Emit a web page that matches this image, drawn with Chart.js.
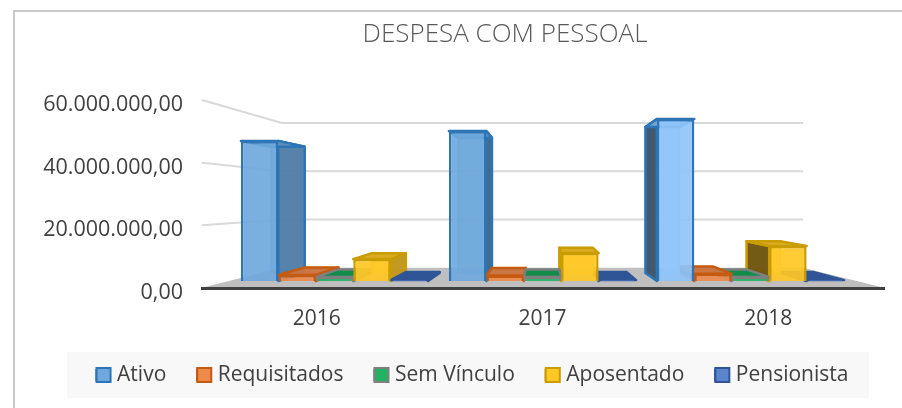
<!DOCTYPE html>
<html><head><meta charset="utf-8">
<style>html,body{margin:0;padding:0;background:#fff}canvas{display:block}</style>
<script src="https://cdn.jsdelivr.net/npm/chart.js@4"></script>
</head><body><canvas id="c" width="902" height="408"></canvas>
<script>
const years = ['2016', '2017', '2018'];
const ativo = [46700000, 50000000, 54000000];
const requisitados = [2000000, 1800000, 2400000];
const semVinculo = [1300000, 1300000, 1300000];
const aposentado = [7300000, 9300000, 11700000];
const pensionista = [300000, 300000, 300000];
const yTicks = [0, 20000000, 40000000, 60000000];

const seriesStyle = [
  {label:'Ativo', data:ativo, rgb:[111,168,220], rgbLast:[142,197,251], border:'#2e75b6'},
  {label:'Requisitados', data:requisitados, rgb:[238,138,76], border:'#c55a11'},
  {label:'Sem Vínculo', data:semVinculo, rgb:[33,178,100], border:'#7f7f7f', topRgb:[18,140,74]},
  {label:'Aposentado', data:aposentado, rgb:[255,200,37], border:'#c99d00'},
  {label:'Pensionista', data:pensionista, rgb:[91,132,207], border:'#2f5597', topRgb:[47,85,151]}
];
const sideShade = [0.75, 0.6, 0.42];
const VPY = 200, BAR_DEPTH = 0.9, WALL_DEPTH = 0.77;
const FONT = '"Open Sans", sans-serif';
const LEGEND_SHIFT = 32, LEGEND_CENTER_Y = 375, LEGEND_PAD = 31;

function colorOf(s, i, a, k){
  const c = (i === 2 && s.rgbLast) ? s.rgbLast : s.rgb;
  k = k === undefined ? 1 : k;
  return `rgba(${Math.round(c[0]*k)},${Math.round(c[1]*k)},${Math.round(c[2]*k)},${a})`;
}
function quad(ctx, pts, fill, stroke, w){
  ctx.beginPath();
  pts.forEach((p,i)=> i ? ctx.lineTo(p[0],p[1]) : ctx.moveTo(p[0],p[1]));
  ctx.closePath();
  if (fill){ ctx.fillStyle = fill; ctx.fill(); }
  if (stroke){ ctx.strokeStyle = stroke; ctx.lineWidth = w; ctx.lineJoin='round'; ctx.stroke(); }
}

const scene = {
  id:'scene',
  afterLayout(chart){
    const T = chart.titleBlock, L = chart.legend;
    T.left += 129;
    L.left += LEGEND_SHIFT; L.right += LEGEND_SHIFT;
    const itemH = L.legendHitBoxes[0].height;
    const dy = LEGEND_CENTER_Y - (L.top + LEGEND_PAD + itemH/2);
    L.top += dy; L.bottom += dy;
  },
  beforeDraw(chart){
    const ctx = chart.ctx, a = chart.chartArea, y = chart.scales.y;
    const vx = (a.left + a.right) / 2;
    const prj = (px,py,s)=>[vx + s*(px-vx), VPY + s*(py-VPY)];
    ctx.save();
    ctx.strokeStyle = '#c9c9c9'; ctx.lineWidth = 2;
    ctx.beginPath(); ctx.moveTo(14,408); ctx.lineTo(14,11); ctx.lineTo(902,11); ctx.stroke();
    ctx.fillStyle = '#f8f8f8'; ctx.fillRect(67,352,802,46);
    ctx.strokeStyle = '#d9d9d9'; ctx.lineWidth = 2;
    yTicks.forEach(v=>{
      if (v === 0) return;
      const py = y.getPixelForValue(v);
      const b1 = prj(a.left,py,WALL_DEPTH), b2 = prj(a.right,py,WALL_DEPTH);
      ctx.beginPath(); ctx.moveTo(a.left-2,py); ctx.lineTo(b1[0],b1[1]); ctx.lineTo(b2[0],b2[1]); ctx.stroke();
    });
    const py0 = y.getPixelForValue(0);
    quad(ctx,[[a.left-3,py0],prj(a.left,py0,WALL_DEPTH),prj(a.right,py0,WALL_DEPTH),[a.right+4,py0]],'#bfbfbf');
    ctx.strokeStyle = '#404040'; ctx.lineWidth = 3;
    ctx.beginPath(); ctx.moveTo(a.left-3,py0+0.5); ctx.lineTo(a.right+4,py0+0.5); ctx.stroke();
    ctx.restore();
  },
  beforeDatasetsDraw(chart){
    const ctx = chart.ctx, a = chart.chartArea, vx = (a.left + a.right) / 2;
    const prj = (px,py)=>[vx + BAR_DEPTH*(px-vx), VPY + BAR_DEPTH*(py-VPY)];
    const boxes = [];
    chart.data.datasets.forEach((d,di)=>{
      chart.getDatasetMeta(di).data.forEach((el,i)=>{
        const p = el.getProps(['x','y','base','width'],true);
        boxes.push({s:seriesStyle[di],i,l:p.x-p.width/2,r:p.x+p.width/2,t:p.y,b:p.base,x:p.x});
      });
    });
    boxes.sort((u,v)=>Math.abs(v.x-vx)-Math.abs(u.x-vx));
    ctx.save();
    boxes.forEach(B=>{
      const {s,i,l,r,t,b} = B;
      const k = sideShade[i];
      const lt=prj(l,t), rt=prj(r,t), lb=prj(l,b), rb=prj(r,b);
      quad(ctx,[lt,rt,rb,lb],colorOf(s,i,0.6),colorOf(s,i,0.9),1.5);
      if (r < vx) quad(ctx,[[r,t],rt,rb,[r,b]],colorOf(s,i,0.95,k),s.border,2.5);
      if (l > vx) quad(ctx,[[l,t],lt,lb,[l,b]],colorOf(s,i,0.95,k),s.border,2.5);
      const topFill = s.topRgb ? `rgb(${s.topRgb})` : colorOf(s,i,0.95,0.85);
      quad(ctx,[[l,t],[r,t],rt,lt],topFill,s.border,2.5);
    });
    ctx.restore();
  },
  afterDraw(chart){
    const ctx = chart.ctx, L = chart.legend;
    ctx.save();
    L.legendHitBoxes.forEach((h,i)=>{
      const s = seriesStyle[i];
      const cy = h.top + h.height/2;
      ctx.fillStyle = colorOf(s,0,1);
      ctx.strokeStyle = s.border; ctx.lineWidth = 2;
      ctx.fillRect(h.left,cy-7,14,14); ctx.strokeRect(h.left,cy-7,14,14);
    });
    ctx.restore();
  }
};

new Chart(document.getElementById('c'),{
  type:'bar',
  data:{
    labels:years,
    datasets:seriesStyle.map(s=>({
      label:s.label, data:s.data,
      xAxisID:'xBars', yAxisID:'yBars',
      backgroundColor:c=>colorOf(s, c.dataIndex, 0.92),
      borderColor:s.border, borderWidth:2.5,
      categoryPercentage:0.9, barPercentage:1
    }))
  },
  plugins:[scene],
  options:{
    responsive:false, animation:false,
    layout:{padding:{left:0,right:21,top:0,bottom:0}},
    plugins:{
      tooltip:{enabled:false},
      title:{display:true,text:'DESPESA COM PESSOAL',color:'#595959',
        font:{family:FONT,size:26,weight:'300'},padding:{top:19,bottom:49.8}},
      legend:{position:'bottom',
        labels:{color:'#404040',font:{family:FONT,size:21},boxWidth:10,boxHeight:10,padding:LEGEND_PAD}}
    },
    scales:{
      x:{type:'category',offset:true,grid:{display:false,drawTicks:false},border:{display:false},
        ticks:{color:'#404040',font:{family:FONT,size:21},padding:18,maxRotation:0},
        afterFit(s){s.height=120-s.chart.legend.height;}},
      y:{type:'linear',min:0,max:60000000,position:'left',
        grid:{display:false,drawTicks:false},border:{display:false},
        afterBuildTicks(s){s.ticks=yTicks.map(v=>({value:v}));},
        ticks:{color:'#404040',font:{family:FONT,size:21.5},padding:21,labelOffset:5,
          callback:v=>v.toLocaleString('pt-BR',{minimumFractionDigits:2,maximumFractionDigits:2})},
        afterFit(s){s.width=204;}},
      xBars:{type:'linear',display:false,offset:false,min:2017-1.6275,max:2017+1.6275,
        afterBuildTicks(s){s.ticks=years.map(v=>({value:+v}));}},
      yBars:{type:'linear',display:false,min:-2333333,max:60333333}
    }
  }
});
</script></body></html>
